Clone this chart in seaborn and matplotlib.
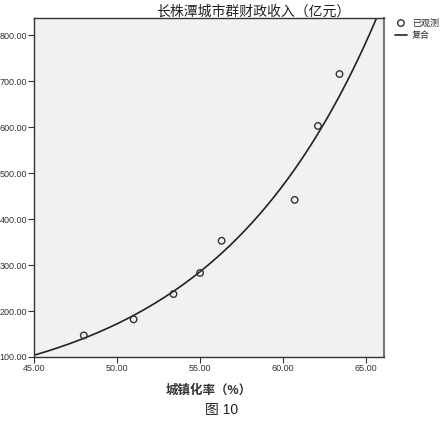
import numpy as np
import pandas as pd
import matplotlib
matplotlib.use("Agg")
import matplotlib.pyplot as plt
import seaborn as sns

urban_rate = [48.0, 51.0, 53.4, 55.0, 56.3, 60.7, 62.1, 63.4]
revenue = [147, 182, 237, 283, 353, 442, 603, 716]

x_ticks = [45, 50, 55, 60, 65]
y_ticks = [100, 200, 300, 400, 500, 600, 700, 800]

title = "长株潭城市群财政收入（亿元）"
xlabel = "城镇化率（%）"
caption = "图 10"

sns.set_theme(style="white")
plt.rcParams['font.family'] = ['Liberation Sans', 'Noto Sans CJK SC', 'DejaVu Sans']

df = pd.DataFrame({"x": urban_rate, "y": revenue})

# compound model y = b0 * b1^x, fitted on log scale
slope, icpt = np.polyfit(df["x"], np.log(df["y"]), 1)
xs = np.linspace(44.5, 66.5, 200)
fit = pd.DataFrame({"x": xs, "y": np.exp(icpt + slope * xs)})

fig = plt.figure(figsize=(4.44, 4.29), dpi=100)
ax = fig.add_axes([34 / 444, 1 - 357 / 429, 350 / 444, 339 / 429])
ax.set_facecolor("#f2f0f3")

sns.lineplot(data=fit, x="x", y="y", ax=ax, color="#222222", linewidth=1.2,
             label="复合", zorder=2)
sns.scatterplot(data=df, x="x", y="y", ax=ax, marker="o", s=22,
                facecolor="none", edgecolor="#333333", linewidth=1.0,
                label="已观测", zorder=3)

ax.set_xlim(45, 66.08)
ax.set_ylim(100, 838)
ax.set_xticks(x_ticks)
ax.set_yticks(y_ticks)
ax.set_xticklabels([f"{v:.2f}" for v in x_ticks], fontsize=6.5, color="#333333")
ax.set_yticklabels([f"{v:.2f}" for v in y_ticks], fontsize=6.5, color="#333333")
ax.tick_params(axis="both", direction="out", length=4, width=0.8, color="#333333",
               bottom=True, left=True, pad=1)
for sp in ax.spines.values():
    sp.set_color("#333333")
    sp.set_linewidth(1.0)
ax.spines["right"].set_color("#777777")
ax.spines["right"].set_linewidth(1.5)

ax.set_xlabel(xlabel, fontsize=9, fontweight="bold", color="#333333", labelpad=8)
ax.set_ylabel("")

handles, labels = ax.get_legend_handles_labels()
order = [labels.index("已观测"), labels.index("复合")]
ax.legend([handles[i] for i in order], [labels[i] for i in order],
          loc="upper left", bbox_to_anchor=(1.02, 1.01), frameon=False,
          fontsize=6.5, handlelength=1.4, handletextpad=0.5, labelspacing=0.4,
          borderaxespad=0)

fig.text(253 / 444, 1 - 12 / 429, title, ha="center", va="center", fontsize=10,
         color="#222222")
fig.text(222 / 444, 1 - 410 / 429, caption, ha="center", va="center", fontsize=10,
         color="#222222")

fig.savefig("out.png", dpi=100)
